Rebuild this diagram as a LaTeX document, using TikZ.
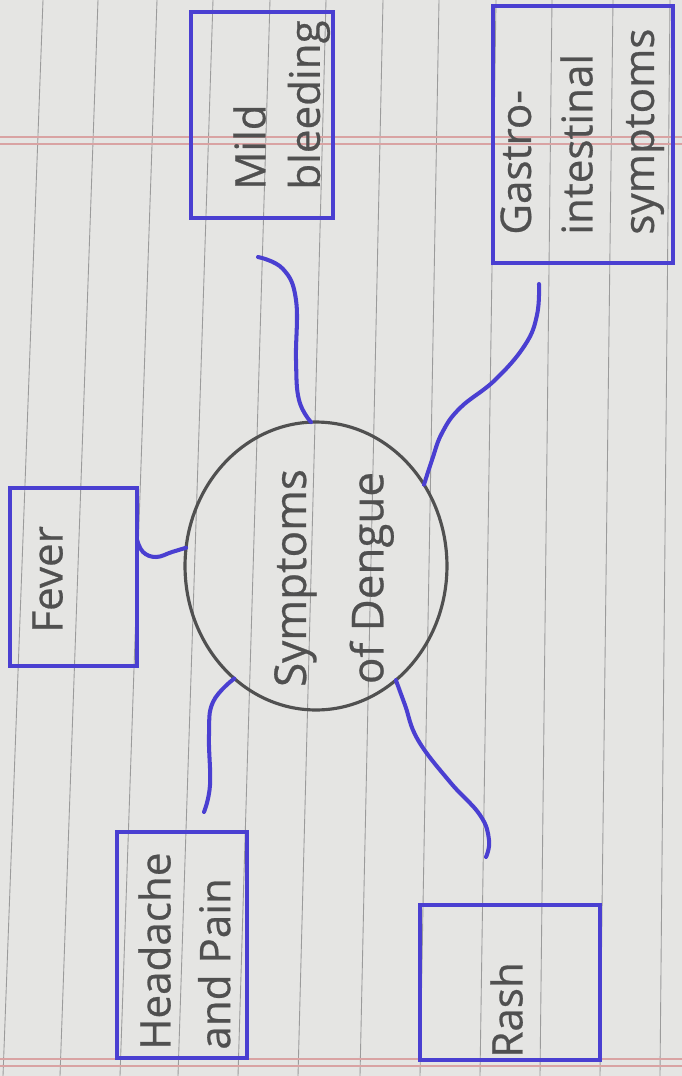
\documentclass[tikz,border=0pt]{standalone}
\usepackage{fontspec}
\setmainfont{Open Sans}
\newfontfamily\handfont{Open Sans}[FakeBold=0.6]
\definecolor{penblue}{HTML}{4A3FD1}
\definecolor{pencil}{HTML}{505050}
\definecolor{paper}{HTML}{E5E5E3}
\definecolor{ruling}{HTML}{9B9B9B}
\definecolor{margin}{HTML}{D9A3A3}
\usetikzlibrary{shapes.geometric,calc}

\begin{document}
\begin{tikzpicture}[x=0.02cm,y=-0.02cm,
  symbox/.style={draw=penblue,line width=2.8pt,inner sep=0pt,outer sep=0pt},
  hub/.style={ellipse,draw=pencil,line width=1.8pt,inner sep=0pt,outer sep=0pt},
  word/.style={rotate=90,anchor=north west,inner sep=0pt,align=left,text=pencil,font=\handfont\fontsize{24}{31}\selectfont},
  wire/.style={penblue,line width=2.3pt,line cap=round}]
\fill[paper] (0,0) rectangle (682,1076);
\useasboundingbox (0,0) rectangle (682,1076);
\foreach \t/\b in {43/3,98/60,157/120,213/178,270/238,326/298,383/360,439/420,496/480,552/540,613/600,670/660}
  \draw[ruling,line width=0.5pt] (\t,0) -- (\b,1076);
\foreach \y in {137,144,1059,1066}
  \draw[margin,line width=0.6pt] (0,\y) -- (682,\y);

\node[hub,minimum width=5.24cm,minimum height=5.76cm] (dengue) at (316,566) {};
\node[symbox,minimum width=2.54cm,minimum height=3.56cm] (fever) at (73.5,577) {};
\node[symbox,minimum width=2.84cm,minimum height=4.12cm] (mild) at (262,115) {};
\node[symbox,minimum width=3.6cm,minimum height=5.14cm] (gastro) at (583,134.5) {};
\node[symbox,minimum width=2.6cm,minimum height=4.52cm] (headache) at (182,945) {};
\node[symbox,minimum width=3.6cm,minimum height=3.1cm] (rash) at (510,982.5) {};

\node[word,anchor=center,align=center,font=\handfont\fontsize{25}{44}\selectfont] (denguetext) at (334,578) {Symptoms\\of Dengue};
\node[word] (fevertext) at (32,633) {Fever};
\node[word] (mildtext) at (233,190) {Mild\\bleeding};
\node[word,font=\handfont\fontsize{24}{35}\selectfont] (gastrotext) at (500,235) {Gastro-\\intestinal\\symptoms};
\node[word,font=\handfont\fontsize{24}{34}\selectfont] (headachetext) at (138,1050) {Headache\\and Pain};
\node[word] (rashtext) at (490,1058) {Rash};

\coordinate (mildtip) at (258,257);
\coordinate (gastrotip) at (539,284);
\coordinate (headtip) at (204,812);
\coordinate (rashtip) at (486,857);

\draw[wire] plot[smooth,tension=0.7] coordinates {($(fever.north east)!.29!(fever.south east)$) (143,552) (156,557) (172,552) (dengue.172)};
\draw[wire] plot[smooth,tension=0.7] coordinates {(dengue.92) (299,400) (296,360) (296,300) (283,269) (mildtip)};
\draw[wire] plot[smooth,tension=0.7] coordinates {(dengue.37) (432,460) (442,433) (460,408) (495,380) (525,345) (537,315) (gastrotip)};
\draw[wire] plot[smooth,tension=0.7] coordinates {(dengue.234) (213,702) (209,735) (210,785) (headtip)};
\draw[wire] plot[smooth,tension=0.7] coordinates {(dengue.305) (405,705) (418,740) (450,782) (480,815) (489,840) (rashtip)};
\end{tikzpicture}
\end{document}
